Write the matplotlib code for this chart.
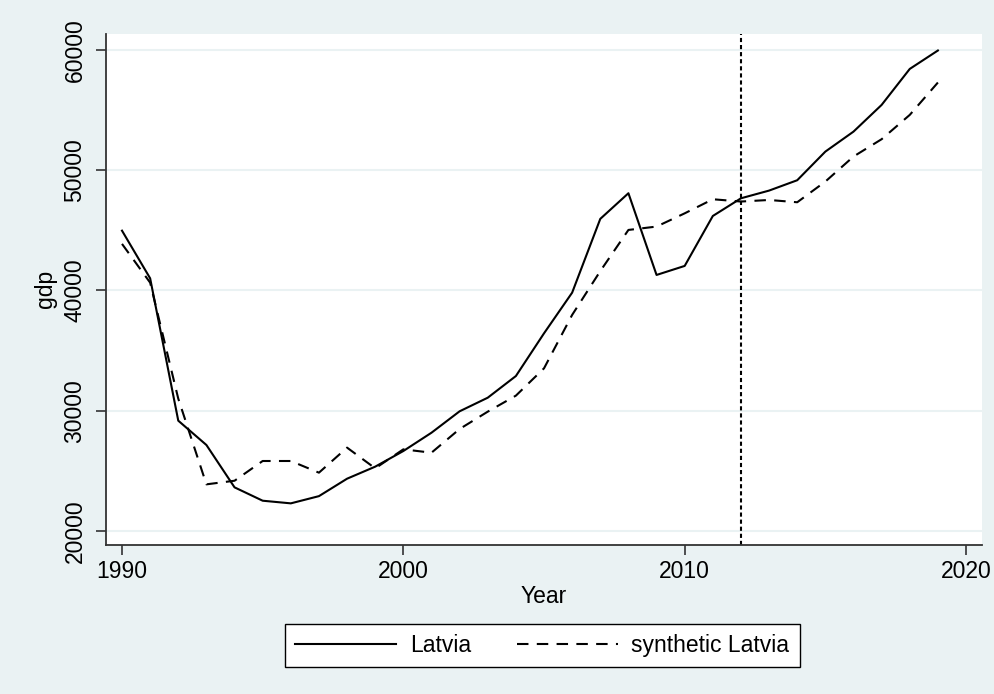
import numpy as np
import matplotlib.pyplot as plt

plt.rcParams['font.family'] = ['Liberation Sans', 'DejaVu Sans']

years = np.arange(1990, 2020)
latvia = [44960, 41000, 29170, 27150, 23630, 22520, 22300, 22900, 24350, 25350,
          26650, 28170, 29950, 31080, 32880, 36430, 39810, 45940, 48070, 41280,
          42030, 46180, 47650, 48290, 49150, 51530, 53190, 55410, 58400, 59930]
synthetic = [43860, 40640, 31000, 23880, 24180, 25820, 25820, 24850, 26930, 25210,
             26790, 26510, 28480, 29920, 31250, 33520, 37960, 41600, 45020, 45300,
             46400, 47570, 47380, 47510, 47320, 49040, 51120, 52560, 54580, 57270]
treatment_year = 2012
yticks = [20000, 30000, 40000, 50000, 60000]
xticks = [1990, 2000, 2010, 2020]

bg = '#eaf2f3'
fs = 16.5
fig = plt.figure(figsize=(9.95, 6.94), dpi=100, facecolor=bg)
ax = fig.add_axes([0.1065, 0.2147, 0.8805, 0.7368])
ax.set_facecolor('white')

for yv in yticks:
    ax.axhline(yv, color=bg, lw=1.5, zorder=0)

ax.plot(years, latvia, color='black', lw=1.5, label='Latvia')
ax.plot(years, synthetic, color='black', lw=1.5, dashes=(5.5, 4), label='synthetic Latvia')
ax.axvline(treatment_year, color='black', lw=1.5, dashes=(2, 1.4))

ax.set_xlim(1989.43, 2020.57)
ax.set_ylim(18840, 61330)
ax.set_xticks(xticks)
ax.set_yticks(yticks)
ax.tick_params(axis='both', direction='out', length=7, width=1.2, labelsize=fs,
               color='#333333', pad=4)
ax.tick_params(axis='y', pad=7)
for lab in ax.get_yticklabels():
    lab.set_rotation(90)
    lab.set_va('center')

for s in ['top', 'right']:
    ax.spines[s].set_visible(False)
for s in ['left', 'bottom']:
    ax.spines[s].set_color('#333333')
    ax.spines[s].set_linewidth(1.3)

ax.set_xlabel('Year', fontsize=fs, labelpad=1)
ax.set_ylabel('gdp', fontsize=fs, labelpad=5)

leg = fig.legend(loc='center', bbox_to_anchor=(0.545, 0.07), ncol=2, fontsize=fs,
                 frameon=True, fancybox=False, edgecolor='black', framealpha=1,
                 handlelength=4.4, columnspacing=2.0, borderpad=0.45, handletextpad=0.6)
leg.get_frame().set_linewidth(1.0)

fig.savefig('out.png', dpi=100, facecolor=bg)
